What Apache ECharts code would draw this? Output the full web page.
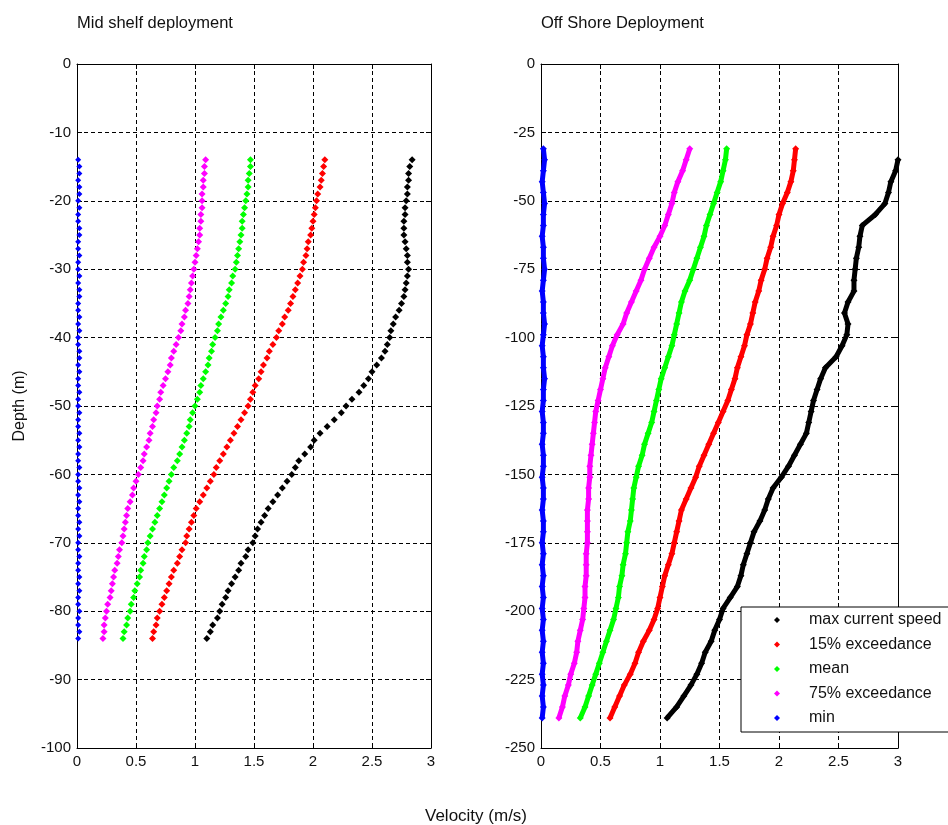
<!DOCTYPE html>
<html>
<head>
<meta charset="utf-8">
<script src="https://cdn.jsdelivr.net/npm/echarts@6/dist/echarts.min.js"></script>
<style>
  html, body { margin: 0; padding: 0; background: #fff; }
  #chart { width: 948px; height: 825px; }
</style>
</head>
<body>
<div id="chart"></div>
<script>
// legend / series names
const seriesNames = ['max current speed', '15% exceedance', 'mean', '75% exceedance', 'min'];
const seriesColors = ['#000000', '#ff0000', '#00ff00', '#ff00ff', '#0000ff'];

// tick labels
const velocityTicks = [0, 0.5, 1, 1.5, 2, 2.5, 3];
const midDepthTicks = [0, -10, -20, -30, -40, -50, -60, -70, -80, -90, -100];
const offDepthTicks = [0, -25, -50, -75, -100, -125, -150, -175, -200, -225, -250];

// mid shelf deployment: depth (m) and velocities (m/s)
const midDepth = [-14, -15, -16, -17, -18, -19, -20, -21, -22, -23, -24, -25, -26, -27, -28, -29, -30,
  -31, -32, -33, -34, -35, -36, -37, -38, -39, -40, -41, -42, -43, -44, -45, -46, -47, -48, -49, -50,
  -51, -52, -53, -54, -55, -56, -57, -58, -59, -60, -61, -62, -63, -64, -65, -66, -67, -68, -69, -70,
  -71, -72, -73, -74, -75, -76, -77, -78, -79, -80, -81, -82, -83, -84];
const midMax = [2.84, 2.82, 2.81, 2.81, 2.80, 2.80, 2.79, 2.78, 2.78, 2.77, 2.77, 2.77, 2.78, 2.79, 2.80, 2.80, 2.81,
  2.80, 2.79, 2.78, 2.77, 2.75, 2.73, 2.70, 2.68, 2.66, 2.65, 2.63, 2.61, 2.58, 2.54, 2.50, 2.47, 2.43, 2.39, 2.33, 2.28,
  2.24, 2.18, 2.12, 2.06, 2.01, 1.98, 1.93, 1.88, 1.85, 1.82, 1.78, 1.74, 1.70, 1.66, 1.62, 1.59, 1.56, 1.53, 1.51, 1.49,
  1.45, 1.43, 1.39, 1.37, 1.34, 1.31, 1.28, 1.26, 1.23, 1.21, 1.19, 1.15, 1.13, 1.10];
const mid15 = [2.10, 2.09, 2.08, 2.07, 2.06, 2.04, 2.03, 2.02, 2.01, 2.00, 1.99, 1.98, 1.96, 1.95, 1.94, 1.92, 1.91,
  1.89, 1.87, 1.85, 1.83, 1.81, 1.79, 1.76, 1.74, 1.71, 1.69, 1.66, 1.63, 1.61, 1.58, 1.56, 1.54, 1.51, 1.49, 1.47, 1.45,
  1.42, 1.39, 1.36, 1.33, 1.30, 1.27, 1.24, 1.21, 1.18, 1.16, 1.13, 1.10, 1.07, 1.04, 1.01, 0.99, 0.97, 0.95, 0.93, 0.92,
  0.89, 0.87, 0.85, 0.82, 0.80, 0.78, 0.76, 0.74, 0.72, 0.70, 0.68, 0.67, 0.65, 0.64];
const midMean = [1.47, 1.47, 1.46, 1.45, 1.45, 1.44, 1.43, 1.42, 1.41, 1.40, 1.40, 1.39, 1.38, 1.37, 1.36, 1.35, 1.34,
  1.32, 1.31, 1.29, 1.28, 1.26, 1.24, 1.22, 1.20, 1.19, 1.17, 1.15, 1.14, 1.12, 1.11, 1.09, 1.07, 1.05, 1.04, 1.02, 1.00,
  0.98, 0.96, 0.95, 0.93, 0.91, 0.89, 0.87, 0.85, 0.82, 0.80, 0.78, 0.76, 0.74, 0.72, 0.70, 0.68, 0.66, 0.64, 0.62, 0.60,
  0.59, 0.57, 0.56, 0.54, 0.53, 0.51, 0.49, 0.48, 0.46, 0.45, 0.43, 0.42, 0.40, 0.39];
const mid75 = [1.09, 1.08, 1.08, 1.07, 1.07, 1.06, 1.06, 1.06, 1.05, 1.05, 1.04, 1.04, 1.03, 1.02, 1.01, 1.00, 0.99,
  0.98, 0.97, 0.96, 0.95, 0.94, 0.92, 0.91, 0.89, 0.88, 0.86, 0.84, 0.82, 0.80, 0.79, 0.77, 0.75, 0.73, 0.71, 0.70, 0.68,
  0.67, 0.65, 0.64, 0.62, 0.61, 0.59, 0.57, 0.56, 0.54, 0.52, 0.50, 0.48, 0.47, 0.45, 0.43, 0.42, 0.41, 0.40, 0.39, 0.38,
  0.36, 0.35, 0.34, 0.32, 0.31, 0.30, 0.29, 0.28, 0.26, 0.25, 0.24, 0.23, 0.23, 0.22];
const midMin = [0.01, 0.02, 0.02, 0.01, 0.02, 0.02, 0.01, 0.02, 0.01, 0.01, 0.02, 0.02, 0.01, 0.01, 0.02, 0.01, 0.01,
  0.02, 0.01, 0.02, 0.02, 0.01, 0.01, 0.02, 0.01, 0.02, 0.01, 0.01, 0.02, 0.02, 0.01, 0.02, 0.01, 0.01, 0.02, 0.01, 0.01,
  0.02, 0.01, 0.01, 0.02, 0.01, 0.02, 0.01, 0.01, 0.02, 0.01, 0.01, 0.02, 0.01, 0.02, 0.01, 0.01, 0.02, 0.01, 0.02, 0.01,
  0.01, 0.02, 0.01, 0.01, 0.02, 0.01, 0.02, 0.01, 0.01, 0.02, 0.01, 0.01, 0.02, 0.01];

// off shore deployment: depth (m) and velocities (m/s)
const offDepth = [-31, -35, -39, -43, -47, -51, -55, -59, -63, -67, -71, -75, -79, -83, -87, -91, -95, -99,
  -103, -107, -111, -115, -119, -123, -127, -131, -135, -139, -143, -147, -151, -155, -159, -163, -167, -171,
  -175, -179, -183, -187, -191, -195, -199, -203, -207, -211, -215, -219, -223, -227, -231, -235, -239];
const offMax = [null, 3.00, 2.98, 2.94, 2.92, 2.89, 2.81, 2.70, 2.68, 2.67, 2.65, 2.64, 2.63, 2.63, 2.58, 2.55, 2.58, 2.57,
  2.53, 2.48, 2.39, 2.35, 2.32, 2.29, 2.27, 2.25, 2.23, 2.18, 2.13, 2.08, 2.02, 1.95, 1.91, 1.88, 1.84, 1.79,
  1.76, 1.73, 1.70, 1.68, 1.65, 1.59, 1.53, 1.50, 1.46, 1.43, 1.38, 1.35, 1.31, 1.26, 1.20, 1.14, 1.06];
const off15 = [2.14, 2.13, 2.12, 2.10, 2.07, 2.03, 2.00, 1.98, 1.95, 1.93, 1.90, 1.88, 1.85, 1.83, 1.80, 1.78, 1.76, 1.73,
  1.71, 1.68, 1.65, 1.63, 1.60, 1.57, 1.53, 1.49, 1.45, 1.41, 1.37, 1.33, 1.30, 1.26, 1.22, 1.18, 1.16, 1.14,
  1.12, 1.10, 1.07, 1.04, 1.02, 1.00, 0.98, 0.95, 0.91, 0.86, 0.82, 0.79, 0.75, 0.70, 0.66, 0.62, 0.58];
const offMean = [1.56, 1.55, 1.53, 1.51, 1.48, 1.45, 1.42, 1.39, 1.37, 1.34, 1.31, 1.28, 1.25, 1.21, 1.18, 1.16, 1.14, 1.12,
  1.10, 1.07, 1.04, 1.01, 0.99, 0.97, 0.95, 0.93, 0.90, 0.87, 0.85, 0.82, 0.80, 0.78, 0.77, 0.76, 0.75, 0.73,
  0.72, 0.71, 0.69, 0.68, 0.66, 0.65, 0.63, 0.61, 0.58, 0.55, 0.52, 0.49, 0.46, 0.43, 0.40, 0.37, 0.33];
const off75 = [1.25, 1.22, 1.19, 1.15, 1.12, 1.10, 1.07, 1.04, 1.00, 0.95, 0.91, 0.87, 0.84, 0.80, 0.76, 0.72, 0.69, 0.64,
  0.60, 0.57, 0.54, 0.52, 0.50, 0.48, 0.46, 0.45, 0.44, 0.43, 0.42, 0.41, 0.41, 0.40, 0.40, 0.39, 0.39, 0.39,
  0.39, 0.38, 0.38, 0.38, 0.37, 0.37, 0.36, 0.35, 0.33, 0.31, 0.30, 0.28, 0.25, 0.23, 0.20, 0.18, 0.15];
const offMin = [0.02, 0.03, 0.02, 0.01, 0.02, 0.03, 0.02, 0.02, 0.01, 0.02, 0.02, 0.03, 0.02, 0.01, 0.02, 0.02, 0.03, 0.02,
  0.01, 0.02, 0.02, 0.03, 0.02, 0.02, 0.01, 0.02, 0.02, 0.01, 0.02, 0.02, 0.01, 0.02, 0.02, 0.01, 0.02, 0.02,
  0.01, 0.02, 0.01, 0.02, 0.01, 0.02, 0.01, 0.02, 0.01, 0.02, 0.01, 0.02, 0.01, 0.02, 0.01, 0.02, 0.01];

const font = "'Liberation Sans', Arial, sans-serif";

function pairs(vals, depth) {
  const out = [];
  vals.forEach((v, i) => { if (v != null) out.push([v, depth[i]]); });
  return out;
}

function valueAxis(ticks, gridIndex, position, labels) {
  return {
    type: 'value',
    gridIndex: gridIndex,
    position: position,
    min: Math.min(...ticks),
    max: Math.max(...ticks),
    interval: Math.abs(ticks[1] - ticks[0]),
    axisLine: { show: true, onZero: false, lineStyle: { color: '#000', width: 1 } },
    axisTick: { show: true, inside: true, length: 5, lineStyle: { color: '#000' } },
    axisLabel: { show: labels, color: '#111', fontSize: 15, fontFamily: font, margin: 6 },
    splitLine: { show: labels, lineStyle: { color: '#000', type: [4, 3], width: 1 } }
  };
}

const midSets = [midMax, mid15, midMean, mid75, midMin];
const offSets = [offMax, off15, offMean, off75, offMin];

const series = [];
seriesNames.forEach((name, k) => {
  series.push({
    name: name,
    type: 'scatter',
    xAxisIndex: 0,
    yAxisIndex: 0,
    symbol: 'diamond',
    symbolSize: k === 4 ? 6 : 7,
    itemStyle: { color: seriesColors[k], opacity: 1 },
    data: pairs(midSets[k], midDepth),
    z: 10 - k
  });
});
seriesNames.forEach((name, k) => {
  series.push({
    name: name,
    type: 'line',
    xAxisIndex: 2,
    yAxisIndex: 2,
    symbol: 'diamond',
    symbolSize: 7,
    showAllSymbol: true,
    itemStyle: { color: seriesColors[k], opacity: 1 },
    lineStyle: { color: seriesColors[k], width: 5 },
    data: pairs(offSets[k], offDepth),
    z: 10 - k
  });
});

const leftY = valueAxis(midDepthTicks, 0, 'left', true);
leftY.name = 'Depth (m)';
leftY.nameLocation = 'middle';
leftY.nameGap = 49;
leftY.nameRotate = 90;
leftY.nameTextStyle = { fontSize: 16, color: '#111', fontFamily: font };

const option = {
  animation: false,
  backgroundColor: '#fff',
  title: [
    { text: 'Mid shelf deployment', left: 77, top: 15, padding: 0,
      textStyle: { fontSize: 16.5, fontWeight: 'normal', color: '#111', fontFamily: font } },
    { text: 'Off Shore Deployment', left: 541, top: 15, padding: 0,
      textStyle: { fontSize: 16.5, fontWeight: 'normal', color: '#111', fontFamily: font } },
    { text: 'Velocity (m/s)', left: 425, top: 808, padding: 0,
      textStyle: { fontSize: 17, fontWeight: 'normal', color: '#111', fontFamily: font } }
  ],
  legend: {
    orient: 'vertical',
    left: 741,
    top: 607,
    data: seriesNames,
    icon: 'diamond',
    itemWidth: 6,
    itemHeight: 6,
    itemGap: 8.5,
    padding: [5, 220, 6, 33],
    selectedMode: false,
    borderColor: '#000',
    borderWidth: 1,
    backgroundColor: '#fff',
    formatter: name => '{g|}' + name,
    textStyle: {
      fontSize: 16, lineHeight: 16, color: '#111', fontFamily: font,
      rich: { g: { width: 24 } }
    }
  },
  grid: [
    { left: 77, top: 64, width: 354, height: 684 },
    { left: 541, top: 64, width: 357, height: 684 }
  ],
  xAxis: [
    valueAxis(velocityTicks, 0, 'bottom', true),
    valueAxis(velocityTicks, 0, 'top', false),
    valueAxis(velocityTicks, 1, 'bottom', true),
    valueAxis(velocityTicks, 1, 'top', false)
  ],
  yAxis: [
    leftY,
    valueAxis(midDepthTicks, 0, 'right', false),
    valueAxis(offDepthTicks, 1, 'left', true),
    valueAxis(offDepthTicks, 1, 'right', false)
  ],
  series: series
};

const chart = echarts.init(document.getElementById('chart'));
chart.setOption(option);
</script>
</body>
</html>
